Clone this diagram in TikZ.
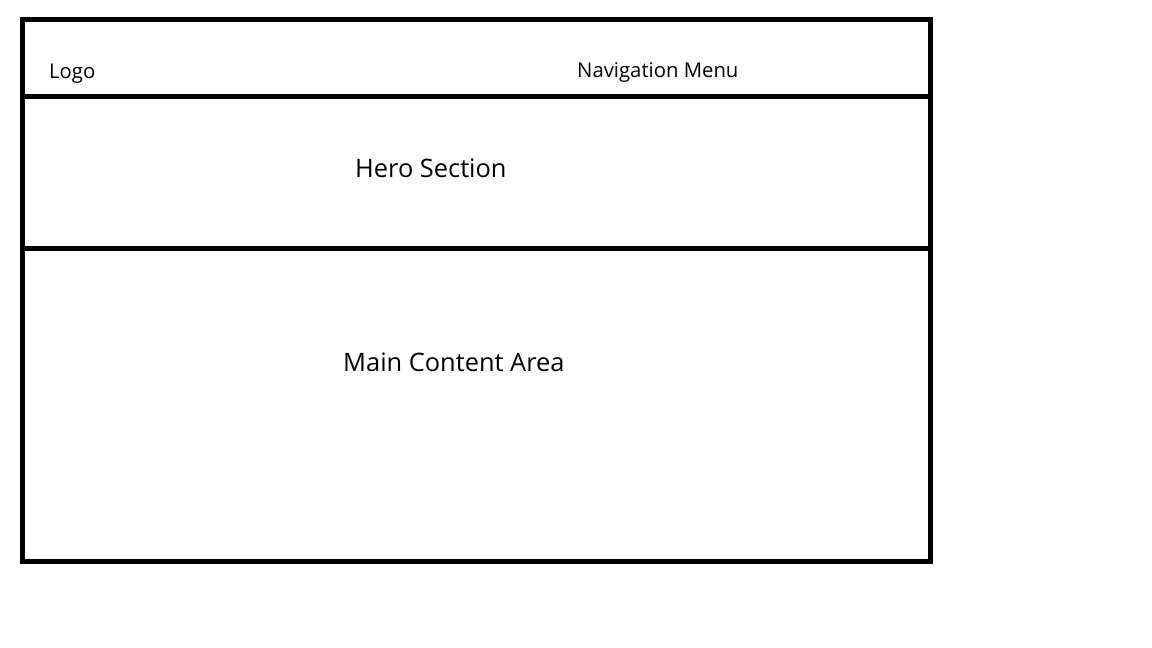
\documentclass[tikz,border=0pt]{standalone}
\usepackage{fontspec}
\setmainfont{Open Sans}
\begin{document}
\begin{tikzpicture}[x=1pt,y=1pt,
  frame/.style={line width=5pt},
  small/.style={font=\fontsize{20.3}{22}\selectfont, anchor=base west, inner sep=0pt},
  big/.style={font=\fontsize{25.4}{28}\selectfont, anchor=base west, inner sep=0pt}]
\useasboundingbox[fill=white] (0,0) rectangle (1152,648);
% outer frame (image y flipped: y = 648 - y_img)
\coordinate (tl) at (22.5,628.5);
\coordinate (br) at (930,86.5);
\draw[frame] (tl) rectangle (br);
\coordinate (h1l) at (22.5,551);
\coordinate (h1r) at (933,551);
\coordinate (h2l) at (22.5,399.5);
\coordinate (h2r) at (933,399.5);
\draw[frame] (h1l) -- (h1r);
\draw[frame] (h2l) -- (h2r);
\node[small] (logo) at (49,569) {Logo};
\node[small] (nav) at (577,570) {Navigation Menu};
\node[big] (hero) at (355,470) {Hero Section};
\node[big] (main) at (343,276) {Main Content Area};
\end{tikzpicture}
\end{document}
